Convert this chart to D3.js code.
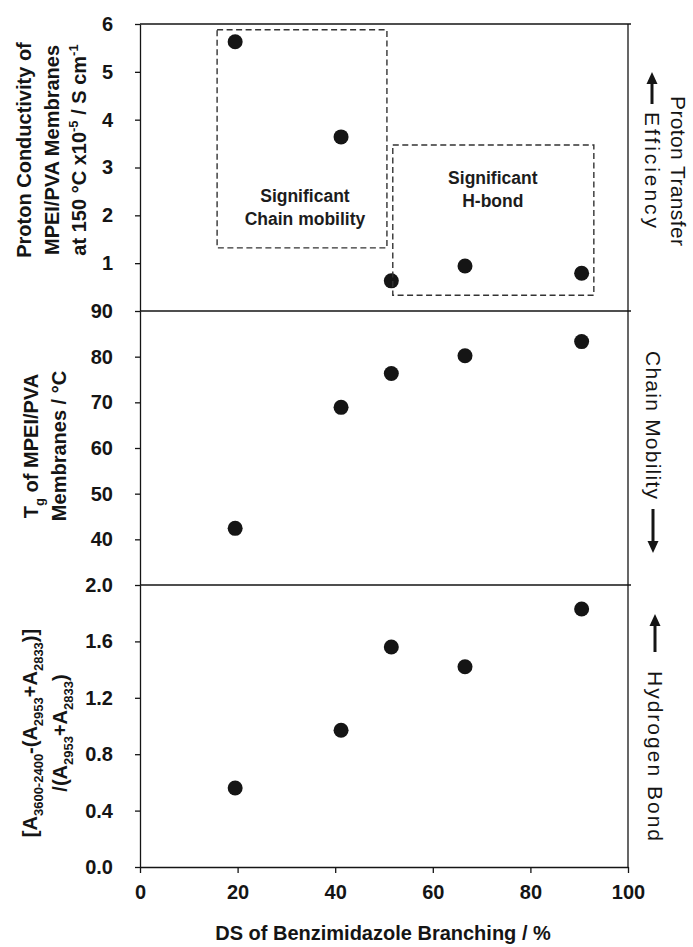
<!DOCTYPE html>
<html>
<head>
<meta charset="utf-8">
<script src="https://cdn.jsdelivr.net/npm/d3@7"></script>
<style>
body{margin:0;background:#fff}
svg{display:block;font-family:"Liberation Sans",Arial,sans-serif}
</style>
</head>
<body>
<svg id="chart" width="693" height="947"></svg>
<script>
// DS of benzimidazole branching (%) and the three measured properties
const dsBranching = [19.5, 41.2, 51.5, 66.6, 90.5]
const conductivity = [5.63, 3.64, 0.63, 0.94, 0.79]
const tgValues = [42.4, 68.9, 76.3, 80.2, 83.3]
const hbondRatio = [0.56, 0.97, 1.56, 1.42, 1.83]

const xTicks = [0, 20, 40, 60, 80, 100]
const condTicks = [1, 2, 3, 4, 5, 6]
const tgTicks = [40, 50, 60, 70, 80, 90]
const hbondTicks = [0, 0.4, 0.8, 1.2, 1.6, 2.0]

// dashed regions in the top panel, in data units
const regionBoxes = [
  {x0: 15.8, x1: 50.6, y0: 1.32, y1: 5.88},
  {x0: 51.8, x1: 93.0, y0: 0.33, y1: 3.47}
]
const regionLabels = [
  {x: 33.8, y: 2.28, lines: ['Significant', 'Chain mobility']},
  {x: 72.3, y: 2.66, lines: ['Significant', 'H-bond']}
]

const ink = '#151515'
const left = 140, right = 628
const svg = d3.select('#chart')

const x = d3.scaleLinear().domain([0, 100]).range([left, right])

const panels = [
  {values: conductivity, domain: [0, 6], ticks: condTicks, fmt: d3.format('d'), top: 24, bottom: 311,
   title: {cy: 150, lines: [
     {x: 24, parts: ['Proton Conductivity of']},
     {x: 52, parts: ['MPEI/PVA Membranes']},
     {x: 79, parts: ['at 150 \u00B0C x10', {sup: '-5'}, ' / S cm', {sup: '-1'}]}
   ]},
   side: {lines: [{x: 678, cy: 171, text: 'Proton Transfer', len: 150}, {x: 652, cy: 170, text: 'Efficiency', len: 116}],
          arrow: {x: 652, from: 104, to: 72}}},
  {values: tgValues, domain: [30, 90], ticks: tgTicks, fmt: d3.format('d'), top: 311, bottom: 585,
   title: {cy: 446, lines: [
     {x: 31, parts: ['T', {sub: 'g'}, ' of MPEI/PVA']},
     {x: 59, parts: ['Membranes / \u00B0C']}
   ]},
   side: {lines: [{x: 653, cy: 425, text: 'Chain Mobility', len: 148}],
          arrow: {x: 653, from: 509, to: 553}}},
  {values: hbondRatio, domain: [0, 2], ticks: hbondTicks, fmt: d3.format('.1f'), top: 585, bottom: 867,
   title: {cy: 733, lines: [
     {x: 30, parts: ['[A', {sub: '3600-2400'}, '-(A', {sub: '2953'}, '+A', {sub: '2833'}, ')]']},
     {x: 60, parts: ['/(A', {sub: '2953'}, '+A', {sub: '2833'}, ')']}
   ]},
   side: {lines: [{x: 655, cy: 756, text: 'Hydrogen Bond', len: 170}],
          arrow: {x: 655, from: 652, to: 614}}}
]

function richText(el, parts) {
  let shift = 0
  parts.forEach(p => {
    let t = el.append('tspan')
    let target = 0, str = p
    if (typeof p !== 'string') {
      target = p.sub ? 6 : -8
      str = p.sub || p.sup
      t.attr('font-size', 13)
    }
    if (target !== shift) t.attr('dy', target - shift)
    shift = target
    t.text(str)
  })
}

panels.forEach(p => {
  const y = d3.scaleLinear().domain(p.domain).range([p.bottom, p.top])

  const ax = svg.append('g')
    .attr('transform', `translate(${left},0)`)
    .call(d3.axisLeft(y).tickValues(p.ticks).tickFormat(p.fmt).tickSize(5).tickSizeOuter(0).tickPadding(22))
  ax.selectAll('path,line').attr('stroke', ink).attr('stroke-width', 1.3)
  ax.selectAll('text').attr('fill', ink).attr('font-size', 20).attr('font-weight', 'bold').attr('font-family', null)

  svg.append('line')
    .attr('x1', left).attr('x2', right + 3)
    .attr('y1', p.top).attr('y2', p.top)
    .attr('stroke', ink).attr('stroke-width', 1.3)

  svg.append('g').selectAll('circle')
    .data(p.values)
    .join('circle')
    .attr('cx', (d, i) => x(dsBranching[i]))
    .attr('cy', d => y(d))
    .attr('r', 7.5)
    .attr('fill', ink)

  const tg = svg.append('g').attr('fill', ink).attr('font-size', 20).attr('font-weight', 'bold')
  p.title.lines.forEach(l => {
    let t = tg.append('text')
      .attr('transform', `translate(${l.x},${p.title.cy}) rotate(-90)`)
      .attr('text-anchor', 'middle')
      .attr('y', 7)
    richText(t, l.parts)
  })

  const sg = svg.append('g').attr('fill', ink).attr('font-size', 21)
  p.side.lines.forEach(l => {
    sg.append('text')
      .attr('transform', `translate(${l.x},${l.cy}) rotate(90)`)
      .attr('text-anchor', 'middle')
      .attr('y', 7.5)
      .attr('textLength', l.len)
      .attr('lengthAdjust', 'spacing')
      .text(l.text)
  })
  const a = p.side.arrow, dir = Math.sign(a.to - a.from)
  sg.append('line')
    .attr('x1', a.x).attr('x2', a.x)
    .attr('y1', a.from).attr('y2', a.to - dir * 8)
    .attr('stroke', ink).attr('stroke-width', 3)
  sg.append('path')
    .attr('d', `M${a.x},${a.to} L${a.x - 5.5},${a.to - dir * 12} L${a.x + 5.5},${a.to - dir * 12} Z`)

  if (p.values === conductivity) {
    svg.append('g').selectAll('rect')
      .data(regionBoxes)
      .join('rect')
      .attr('x', d => x(d.x0)).attr('width', d => x(d.x1) - x(d.x0))
      .attr('y', d => y(d.y1)).attr('height', d => y(d.y0) - y(d.y1))
      .attr('fill', 'none').attr('stroke', '#333').attr('stroke-width', 1.4)
      .attr('stroke-dasharray', '6,3.5')
    const lab = svg.append('g').attr('fill', '#1c1c1c').attr('font-size', 17.5).attr('font-weight', 'bold')
      .attr('text-anchor', 'middle')
    regionLabels.forEach(r => {
      r.lines.forEach((s, i) => {
        lab.append('text').attr('x', x(r.x)).attr('y', y(r.y) + i * 23.5).text(s)
      })
    })
  }
})

// right frame and x axis
svg.append('line')
  .attr('x1', right).attr('x2', right)
  .attr('y1', 24).attr('y2', 867)
  .attr('stroke', ink).attr('stroke-width', 1.3)

const xa = svg.append('g')
  .attr('transform', 'translate(0,867)')
  .call(d3.axisBottom(x).tickValues(xTicks).tickSize(6).tickSizeOuter(0).tickPadding(12))
xa.selectAll('path,line').attr('stroke', ink).attr('stroke-width', 1.3)
xa.selectAll('text').attr('fill', ink).attr('font-size', 20).attr('font-weight', 'bold').attr('font-family', null)

svg.append('text')
  .attr('x', 383).attr('y', 940)
  .attr('text-anchor', 'middle')
  .attr('fill', ink).attr('font-size', 20).attr('font-weight', 'bold')
  .text('DS of Benzimidazole Branching / %')
</script>
</body>
</html>
